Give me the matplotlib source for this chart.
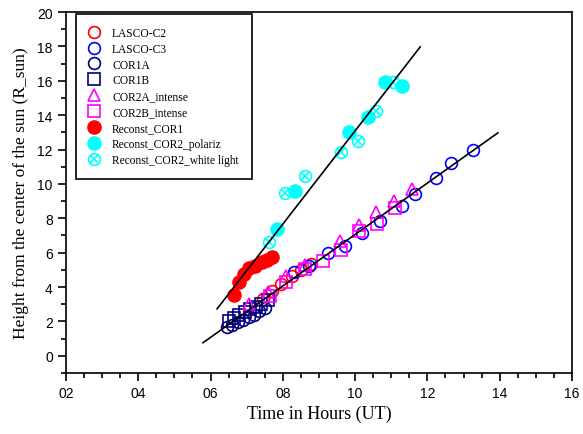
import matplotlib
matplotlib.use("Agg")
import matplotlib.pyplot as plt
from matplotlib.ticker import MultipleLocator, FormatStrFormatter
from matplotlib.legend_handler import HandlerTuple

# data (time in hours UT, height in R_sun)
lasco_c2_t = [7.45, 7.7, 7.95, 8.25, 8.5, 8.77]
lasco_c2_h = [3.3, 3.75, 4.2, 4.65, 5.0, 5.35]

lasco_c3_t = [8.3, 8.72, 9.26, 9.72, 10.2, 10.69, 11.3, 11.66, 12.25, 12.65, 13.26]
lasco_c3_h = [4.85, 5.21, 5.97, 6.41, 7.15, 7.87, 8.7, 9.42, 10.37, 11.22, 12.0]

cor1a_t = [6.45, 6.6, 6.75, 6.9, 7.05, 7.2, 7.35, 7.5]
cor1a_h = [1.65, 1.8, 1.95, 2.1, 2.25, 2.4, 2.6, 2.8]

cor1b_t = [6.5, 6.65, 6.8, 6.95, 7.1, 7.25, 7.4, 7.6]
cor1b_h = [2.0, 2.2, 2.4, 2.55, 2.7, 2.85, 3.0, 3.25]

cor2a_t = [7.05, 7.6, 8.08, 8.6, 9.58, 10.1, 10.58, 11.08, 11.58]
cor2a_h = [3.02, 3.7, 4.67, 5.29, 6.7, 7.6, 8.39, 9.03, 9.7]

cor2b_t = [7.65, 8.1, 8.6, 9.12, 9.6, 10.1, 10.6, 11.1]
cor2b_h = [3.5, 4.28, 5.06, 5.54, 6.18, 7.29, 7.67, 8.58]

rec_cor1_t = [6.66, 6.79, 6.93, 7.07, 7.23, 7.41, 7.55, 7.69]
rec_cor1_h = [3.55, 4.28, 4.75, 5.1, 5.25, 5.44, 5.6, 5.73]

rec_pol_t = [7.85, 8.34, 9.83, 10.36, 10.83, 11.3]
rec_pol_h = [7.38, 9.61, 13.0, 13.9, 15.9, 15.7]

rec_wl_t = [7.62, 8.06, 8.61, 9.6, 10.08, 10.58, 11.05]
rec_wl_h = [6.61, 9.48, 10.46, 11.86, 12.5, 14.24, 15.9]

# straight-line fits shown in the reference (end points)
fit_upper_t = [6.18, 11.8]
fit_upper_h = [2.73, 17.97]
fit_lower_t = [5.79, 13.95]
fit_lower_h = [0.76, 12.97]

plt.rcParams['font.family'] = ['Liberation Serif', 'DejaVu Serif']

fig = plt.figure(figsize=(5.83, 4.35), dpi=100)
ax = fig.add_axes([0.1132, 0.1402, 0.8679, 0.8299])

ms = 8.5
mew = 1.2
navy = '#000080'
cyan = '#00FFFF'
magenta = '#FF00FF'

h_c2, = ax.plot(lasco_c2_t, lasco_c2_h, 'o', ms=ms, mew=mew, mfc='none', mec='red', ls='none')
h_c3, = ax.plot(lasco_c3_t, lasco_c3_h, 'o', ms=ms, mew=mew, mfc='none', mec='blue', ls='none')
h_1a, = ax.plot(cor1a_t, cor1a_h, 'o', ms=ms, mew=mew, mfc='none', mec=navy, ls='none')
h_1b, = ax.plot(cor1b_t, cor1b_h, 's', ms=ms - 0.5, mew=mew, mfc='none', mec=navy, ls='none')
h_2a, = ax.plot(cor2a_t, cor2a_h, '^', ms=ms + 0.5, mew=mew, mfc='none', mec=magenta, ls='none')
h_2b, = ax.plot(cor2b_t, cor2b_h, 's', ms=ms - 0.5, mew=mew, mfc='none', mec=magenta, ls='none')
h_r1, = ax.plot(rec_cor1_t, rec_cor1_h, 'o', ms=ms + 1, mfc='red', mec='red', ls='none')
h_wl1, = ax.plot(rec_wl_t, rec_wl_h, 'o', ms=ms, mew=mew, mfc='none', mec=cyan, ls='none')
h_wl2, = ax.plot(rec_wl_t, rec_wl_h, 'x', ms=ms * 0.75, mew=mew, mec=cyan, ls='none')
h_rp, = ax.plot(rec_pol_t, rec_pol_h, 'o', ms=ms + 1, mfc=cyan, mec=cyan, ls='none')

ax.plot(fit_upper_t, fit_upper_h, color='black', lw=1.2, zorder=5)
ax.plot(fit_lower_t, fit_lower_h, color='black', lw=1.2, zorder=5)

ax.set_xlim(2, 16)
ax.set_ylim(-1, 20)
ax.xaxis.set_major_locator(MultipleLocator(2))
ax.xaxis.set_minor_locator(MultipleLocator(0.5))
ax.xaxis.set_major_formatter(FormatStrFormatter('%02d'))
ax.yaxis.set_major_locator(MultipleLocator(2))
ax.yaxis.set_minor_locator(MultipleLocator(1))
ax.tick_params(which='both', direction='out', top=False, right=False, width=1.2)
ax.tick_params(which='major', length=6)
ax.tick_params(which='minor', length=3.5)
for lbl in ax.get_xticklabels() + ax.get_yticklabels():
    lbl.set_family(['Liberation Sans', 'DejaVu Sans'])
    lbl.set_fontsize(10)
for sp in ax.spines.values():
    sp.set_linewidth(1.2)

ax.set_xlabel('Time in Hours (UT)', fontsize=13, labelpad=3)
ax.set_ylabel('Height from the center of the sun (R_sun)', fontsize=12.5, labelpad=6)

leg = ax.legend([h_c2, h_c3, h_1a, h_1b, h_2a, h_2b, h_r1, h_rp, (h_wl1, h_wl2)],
                ['LASCO-C2', 'LASCO-C3', 'COR1A', 'COR1B', 'COR2A_intense', 'COR2B_intense',
                 'Reconst_COR1', 'Reconst_COR2_polariz', 'Reconst_COR2_white light'],
                handler_map={tuple: HandlerTuple(ndivide=1)},
                loc='upper left', bbox_to_anchor=(76 / 583, 1 - 15 / 435),
                bbox_transform=fig.transFigure, borderaxespad=0, fontsize=8.3, frameon=True,
                fancybox=False, edgecolor='black', framealpha=1,
                handlelength=1.0, handletextpad=1.04, labelspacing=0.34, borderpad=1.1)
leg.get_frame().set_linewidth(1.2)

fig.savefig('out.png', dpi=100)
